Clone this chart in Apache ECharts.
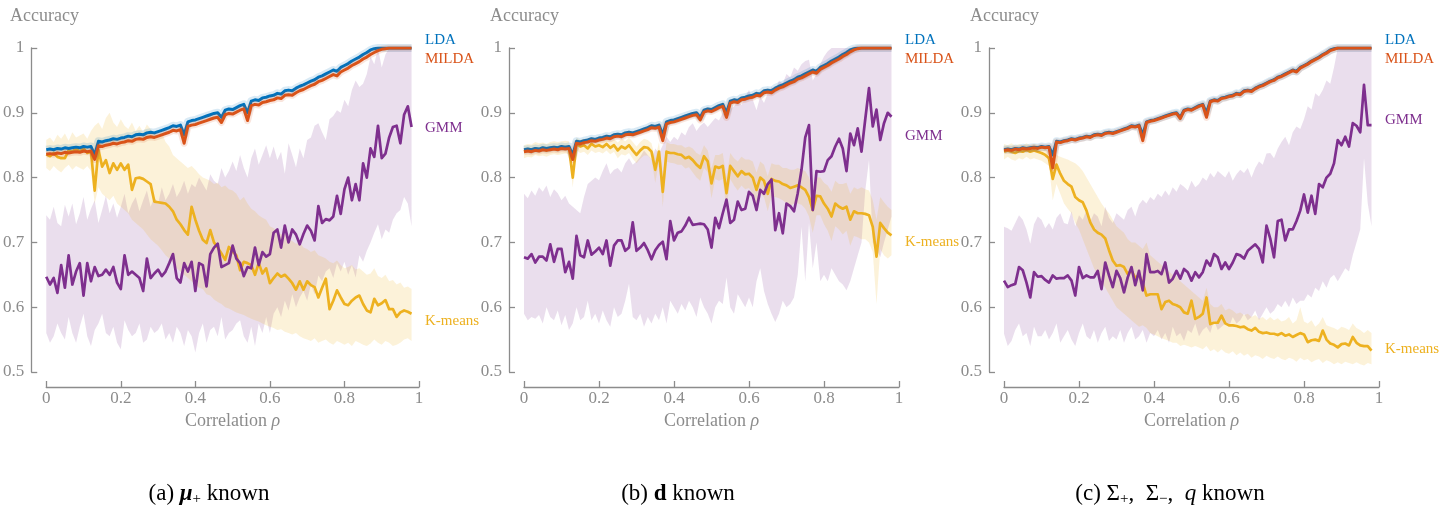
<!DOCTYPE html>
<html lang="en">
<head>
<meta charset="UTF-8">
<title>Accuracy vs correlation</title>
<script src="https://cdn.jsdelivr.net/npm/echarts@6/dist/echarts.min.js"></script>
<style>
  html, body { margin: 0; padding: 0; background: #fff; }
  #main { width: 1455px; height: 508px; }
</style>
</head>
<body>
<div id="main"></div>
<script type="text/javascript">
// correlation values on the x axis
var rho = [0,0.01,0.02,0.03,0.04,0.05,0.06,0.07,0.08,0.09,
  0.1,0.11,0.12,0.13,0.14,0.15,0.16,0.17,0.18,0.19,
  0.2,0.21,0.22,0.23,0.24,0.25,0.26,0.27,0.28,0.29,
  0.3,0.31,0.32,0.33,0.34,0.35,0.36,0.37,0.38,0.39,
  0.4,0.41,0.42,0.43,0.44,0.45,0.46,0.47,0.48,0.49,
  0.5,0.51,0.52,0.53,0.54,0.55,0.56,0.57,0.58,0.59,
  0.6,0.61,0.62,0.63,0.64,0.65,0.66,0.67,0.68,0.69,
  0.7,0.71,0.72,0.73,0.74,0.75,0.76,0.77,0.78,0.79,
  0.8,0.81,0.82,0.83,0.84,0.85,0.86,0.87,0.88,0.89,
  0.9,0.91,0.92,0.93,0.94,0.95,0.96,0.97,0.98];

// LDA looks the same in all three panels
var lda = [0.843,0.844,0.843,0.845,0.844,0.846,0.845,0.846,0.847,0.846,
  0.848,0.847,0.848,0.835,0.856,0.855,0.857,0.858,0.860,0.859,
  0.861,0.862,0.864,0.863,0.866,0.867,0.866,0.869,0.870,0.869,
  0.871,0.873,0.875,0.877,0.880,0.879,0.881,0.866,0.886,0.888,
  0.889,0.891,0.893,0.895,0.897,0.899,0.900,0.893,0.904,0.906,
  0.905,0.908,0.911,0.913,0.900,0.918,0.920,0.919,0.923,0.924,
  0.926,0.927,0.930,0.929,0.934,0.935,0.934,0.938,0.941,0.943,
  0.946,0.949,0.951,0.955,0.957,0.960,0.963,0.966,0.964,0.970,
  0.973,0.976,0.980,0.983,0.986,0.990,0.993,0.997,0.999,1.0,
  1.0,1.0,1.0,1.0,1.0,1.0,1.0,1.0,1.0];

// ---- panel (a): mu+ known
var mildaA = [0.836,0.837,0.836,0.838,0.837,0.839,0.838,0.839,0.840,0.839,
  0.841,0.840,0.841,0.828,0.849,0.848,0.850,0.851,0.853,0.852,
  0.854,0.855,0.857,0.856,0.859,0.860,0.859,0.862,0.863,0.862,
  0.864,0.866,0.868,0.870,0.873,0.872,0.874,0.853,0.879,0.881,
  0.882,0.884,0.886,0.888,0.890,0.892,0.893,0.885,0.897,0.899,
  0.898,0.901,0.904,0.906,0.888,0.911,0.913,0.912,0.916,0.917,
  0.919,0.920,0.923,0.922,0.927,0.928,0.927,0.931,0.934,0.936,
  0.939,0.942,0.944,0.948,0.950,0.953,0.956,0.959,0.957,0.963,
  0.966,0.969,0.973,0.976,0.979,0.983,0.986,0.990,0.993,0.996,
  0.998,0.999,1.0,1.0,1.0,1.0,1.0,1.0,1.0];
var gmmA = [0.647,0.635,0.645,0.622,0.665,0.630,0.680,0.635,0.655,0.668,
  0.618,0.668,0.640,0.662,0.648,0.650,0.658,0.650,0.662,0.638,
  0.628,0.680,0.650,0.655,0.650,0.645,0.625,0.675,0.645,0.652,
  0.658,0.648,0.655,0.668,0.682,0.645,0.638,0.668,0.655,0.670,
  0.625,0.668,0.665,0.632,0.682,0.692,0.698,0.662,0.665,0.668,
  0.695,0.675,0.668,0.648,0.662,0.660,0.692,0.665,0.685,0.678,
  0.682,0.715,0.720,0.692,0.726,0.700,0.720,0.712,0.697,0.713,
  0.726,0.718,0.703,0.756,0.730,0.736,0.734,0.740,0.772,0.744,
  0.782,0.800,0.765,0.790,0.765,0.822,0.800,0.845,0.832,0.880,
  0.830,0.837,0.862,0.878,0.880,0.853,0.897,0.910,0.878];
var gmmHiA = [0.742,0.735,0.755,0.730,0.725,0.758,0.740,0.760,0.728,0.745,
  0.770,0.735,0.752,0.765,0.730,0.750,0.772,0.745,0.760,0.738,
  0.755,0.775,0.745,0.760,0.770,0.748,0.765,0.780,0.755,0.770,
  0.760,0.785,0.765,0.775,0.790,0.770,0.780,0.795,0.775,0.790,
  0.785,0.800,0.790,0.780,0.805,0.795,0.790,0.815,0.800,0.810,
  0.825,0.810,0.835,0.815,0.800,0.830,0.845,0.820,0.835,0.850,
  0.830,0.848,0.827,0.840,0.806,0.853,0.835,0.816,0.845,0.830,
  0.858,0.862,0.880,0.884,0.870,0.858,0.890,0.895,0.904,0.900,
  0.920,0.910,0.935,0.950,0.940,0.945,0.960,0.987,0.975,1.0,
  0.970,0.990,1.0,1.0,1.0,1.0,1.0,1.0,1.0];
var gmmLoA = [0.560,0.545,0.555,0.575,0.560,0.550,0.585,0.560,0.545,0.570,
  0.590,0.555,0.540,0.565,0.575,0.590,0.560,0.555,0.570,0.545,
  0.535,0.580,0.565,0.555,0.560,0.575,0.545,0.550,0.570,0.560,
  0.565,0.575,0.550,0.560,0.545,0.570,0.560,0.540,0.565,0.555,
  0.530,0.560,0.575,0.545,0.565,0.570,0.555,0.585,0.550,0.560,
  0.565,0.575,0.580,0.555,0.545,0.570,0.540,0.575,0.560,0.585,
  0.560,0.590,0.600,0.585,0.610,0.595,0.620,0.600,0.615,0.625,
  0.610,0.635,0.620,0.649,0.640,0.655,0.660,0.645,0.668,0.655,
  0.670,0.650,0.665,0.646,0.680,0.670,0.687,0.700,0.715,0.728,
  0.705,0.720,0.715,0.735,0.745,0.750,0.770,0.760,0.725];
var kmA = [0.836,0.833,0.838,0.832,0.830,0.830,0.842,0.840,0.845,0.840,
  0.845,0.838,0.840,0.780,0.843,0.817,0.827,0.807,0.822,0.812,
  0.822,0.812,0.820,0.781,0.799,0.800,0.798,0.794,0.790,0.763,
  0.762,0.761,0.760,0.755,0.748,0.735,0.728,0.719,0.712,0.755,
  0.735,0.718,0.704,0.699,0.719,0.700,0.692,0.683,0.673,0.693,
  0.686,0.680,0.657,0.670,0.668,0.665,0.650,0.668,0.652,0.660,
  0.637,0.645,0.652,0.647,0.650,0.644,0.637,0.627,0.640,0.627,
  0.640,0.634,0.631,0.615,0.630,0.644,0.597,0.610,0.626,0.615,
  0.605,0.603,0.610,0.615,0.618,0.605,0.595,0.592,0.613,0.603,
  0.606,0.611,0.597,0.597,0.585,0.592,0.595,0.593,0.590];
var kmHiA = [0.858,0.862,0.855,0.866,0.860,0.868,0.857,0.870,0.862,0.865,
  0.868,0.860,0.872,0.880,0.885,0.875,0.892,0.900,0.885,0.878,
  0.890,0.880,0.875,0.885,0.872,0.880,0.870,0.882,0.875,0.868,
  0.865,0.870,0.855,0.848,0.835,0.830,0.825,0.820,0.815,0.818,
  0.812,0.805,0.800,0.798,0.795,0.790,0.792,0.785,0.788,0.782,
  0.780,0.775,0.765,0.770,0.760,0.752,0.748,0.742,0.738,0.735,
  0.725,0.722,0.718,0.712,0.715,0.705,0.702,0.698,0.700,0.692,
  0.690,0.685,0.688,0.680,0.678,0.675,0.670,0.668,0.672,0.665,
  0.660,0.662,0.665,0.658,0.660,0.655,0.650,0.652,0.660,0.648,
  0.645,0.650,0.640,0.642,0.635,0.638,0.630,0.632,0.628];
var kmLoA = [0.815,0.810,0.818,0.812,0.808,0.815,0.820,0.812,0.818,0.815,
  0.812,0.818,0.810,0.760,0.785,0.775,0.770,0.765,0.772,0.760,
  0.755,0.750,0.745,0.735,0.730,0.725,0.720,0.712,0.705,0.700,
  0.695,0.688,0.680,0.675,0.668,0.660,0.655,0.650,0.645,0.640,
  0.635,0.630,0.628,0.620,0.618,0.612,0.608,0.605,0.600,0.598,
  0.595,0.592,0.590,0.588,0.585,0.582,0.580,0.578,0.575,0.572,
  0.570,0.568,0.565,0.566,0.562,0.560,0.558,0.560,0.555,0.552,
  0.550,0.548,0.552,0.545,0.548,0.550,0.545,0.542,0.548,0.545,
  0.542,0.545,0.540,0.548,0.545,0.542,0.540,0.544,0.550,0.545,
  0.542,0.548,0.545,0.540,0.542,0.545,0.550,0.552,0.548];

// ---- panel (b): d known
var mildaB = [0.840,0.841,0.840,0.842,0.841,0.843,0.842,0.843,0.844,0.843,
  0.845,0.844,0.845,0.828,0.853,0.852,0.854,0.855,0.857,0.856,
  0.858,0.859,0.861,0.860,0.863,0.864,0.863,0.866,0.867,0.866,
  0.868,0.870,0.872,0.874,0.877,0.876,0.878,0.857,0.883,0.885,
  0.886,0.888,0.890,0.892,0.894,0.896,0.897,0.889,0.901,0.903,
  0.902,0.905,0.908,0.910,0.893,0.915,0.917,0.916,0.920,0.921,
  0.923,0.924,0.927,0.926,0.931,0.932,0.931,0.935,0.938,0.940,
  0.943,0.946,0.948,0.952,0.954,0.957,0.960,0.963,0.961,0.967,
  0.970,0.973,0.977,0.980,0.983,0.987,0.990,0.994,0.997,0.999,
  1.0,1.0,1.0,1.0,1.0,1.0,1.0,1.0,1.0];
var gmmB = [0.677,0.675,0.682,0.669,0.678,0.678,0.672,0.697,0.670,0.690,
  0.690,0.654,0.670,0.644,0.710,0.680,0.677,0.703,0.681,0.686,
  0.692,0.682,0.703,0.664,0.695,0.703,0.703,0.687,0.692,0.731,
  0.687,0.692,0.699,0.688,0.674,0.688,0.696,0.701,0.674,0.733,
  0.703,0.715,0.717,0.726,0.738,0.727,0.728,0.729,0.728,0.720,
  0.692,0.738,0.722,0.745,0.766,0.730,0.735,0.763,0.750,0.752,
  0.778,0.772,0.750,0.781,0.775,0.790,0.797,0.719,0.745,0.714,
  0.760,0.756,0.748,0.776,0.812,0.862,0.881,0.750,0.810,0.809,
  0.810,0.827,0.833,0.848,0.860,0.845,0.810,0.868,0.850,0.876,
  0.840,0.890,0.938,0.879,0.905,0.858,0.884,0.900,0.894];
var gmmHiB = [0.775,0.768,0.780,0.772,0.785,0.778,0.788,0.770,0.782,0.776,
  0.765,0.772,0.760,0.755,0.750,0.745,0.770,0.790,0.795,0.800,
  0.796,0.810,0.822,0.805,0.812,0.815,0.808,0.822,0.830,0.820,
  0.825,0.832,0.842,0.835,0.828,0.845,0.838,0.850,0.863,0.855,
  0.863,0.858,0.870,0.865,0.878,0.884,0.872,0.880,0.885,0.878,
  0.885,0.892,0.888,0.900,0.895,0.905,0.910,0.917,0.912,0.925,
  0.935,0.920,0.904,0.925,0.915,0.930,0.940,0.935,0.950,0.945,
  0.960,0.955,0.970,0.965,0.975,0.980,0.982,0.950,0.960,0.975,
  0.987,0.995,1.0,1.0,1.0,1.0,1.0,1.0,1.0,1.0,
  1.0,1.0,1.0,1.0,1.0,1.0,1.0,1.0,1.0];
var gmmLoB = [0.590,0.580,0.585,0.582,0.588,0.575,0.600,0.585,0.580,0.595,
  0.572,0.588,0.565,0.575,0.600,0.580,0.585,0.610,0.580,0.590,
  0.575,0.595,0.580,0.570,0.600,0.585,0.590,0.610,0.636,0.585,
  0.580,0.590,0.570,0.585,0.575,0.590,0.580,0.600,0.575,0.610,
  0.600,0.590,0.605,0.595,0.610,0.600,0.585,0.615,0.600,0.590,
  0.575,0.600,0.610,0.605,0.646,0.600,0.590,0.620,0.610,0.600,
  0.615,0.600,0.640,0.660,0.625,0.605,0.590,0.577,0.590,0.610,
  0.600,0.605,0.615,0.650,0.724,0.640,0.730,0.660,0.700,0.640,
  0.650,0.640,0.660,0.650,0.640,0.635,0.626,0.640,0.660,0.680,
  0.700,0.780,0.827,0.700,0.690,0.677,0.700,0.720,0.740];
var kmB = [0.840,0.842,0.841,0.845,0.843,0.844,0.842,0.845,0.846,0.845,
  0.846,0.847,0.846,0.800,0.852,0.848,0.850,0.845,0.852,0.848,
  0.850,0.847,0.852,0.846,0.850,0.842,0.848,0.845,0.850,0.842,
  0.835,0.842,0.847,0.846,0.840,0.812,0.840,0.778,0.840,0.838,
  0.838,0.836,0.835,0.830,0.832,0.827,0.820,0.815,0.833,0.825,
  0.791,0.817,0.815,0.818,0.776,0.818,0.810,0.802,0.810,0.805,
  0.806,0.800,0.781,0.800,0.795,0.775,0.798,0.795,0.794,0.790,
  0.788,0.784,0.786,0.788,0.785,0.781,0.770,0.750,0.772,0.771,
  0.760,0.752,0.740,0.760,0.755,0.752,0.755,0.735,0.748,0.745,
  0.745,0.744,0.742,0.724,0.678,0.730,0.722,0.715,0.711];
var kmHiB = [0.850,0.852,0.851,0.855,0.853,0.854,0.852,0.855,0.856,0.855,
  0.856,0.857,0.856,0.815,0.862,0.858,0.860,0.855,0.862,0.858,
  0.860,0.857,0.862,0.856,0.860,0.854,0.860,0.856,0.862,0.855,
  0.848,0.855,0.860,0.858,0.853,0.830,0.855,0.800,0.855,0.852,
  0.852,0.850,0.850,0.846,0.848,0.845,0.838,0.835,0.850,0.842,
  0.815,0.835,0.835,0.838,0.800,0.838,0.830,0.825,0.832,0.828,
  0.828,0.825,0.808,0.825,0.820,0.802,0.822,0.820,0.820,0.815,
  0.815,0.812,0.812,0.815,0.812,0.810,0.800,0.785,0.800,0.800,
  0.792,0.788,0.778,0.795,0.790,0.790,0.792,0.775,0.785,0.782,
  0.785,0.782,0.780,0.765,0.735,0.770,0.762,0.755,0.750];
var kmLoB = [0.830,0.832,0.831,0.835,0.833,0.834,0.832,0.835,0.836,0.835,
  0.836,0.837,0.836,0.785,0.842,0.838,0.840,0.835,0.842,0.838,
  0.840,0.837,0.842,0.836,0.840,0.830,0.836,0.834,0.838,0.829,
  0.822,0.829,0.834,0.834,0.827,0.792,0.825,0.755,0.825,0.823,
  0.822,0.820,0.820,0.814,0.816,0.808,0.800,0.795,0.815,0.808,
  0.768,0.798,0.795,0.798,0.750,0.798,0.788,0.780,0.788,0.782,
  0.784,0.775,0.755,0.775,0.770,0.748,0.772,0.770,0.768,0.765,
  0.760,0.756,0.760,0.760,0.758,0.752,0.740,0.715,0.742,0.742,
  0.728,0.718,0.702,0.725,0.720,0.712,0.718,0.695,0.710,0.708,
  0.705,0.705,0.700,0.685,0.605,0.690,0.680,0.675,0.680];

// ---- panel (c): Sigma+, Sigma-, q known
var mildaC = [0.842,0.843,0.842,0.844,0.843,0.845,0.844,0.845,0.846,0.845,
  0.847,0.846,0.847,0.815,0.855,0.854,0.856,0.857,0.859,0.858,
  0.860,0.861,0.863,0.862,0.865,0.866,0.865,0.868,0.869,0.868,
  0.870,0.872,0.874,0.876,0.879,0.878,0.880,0.857,0.885,0.887,
  0.888,0.890,0.892,0.894,0.896,0.898,0.899,0.891,0.903,0.905,
  0.904,0.907,0.910,0.912,0.893,0.917,0.919,0.918,0.922,0.923,
  0.925,0.926,0.929,0.928,0.933,0.934,0.933,0.937,0.940,0.942,
  0.945,0.948,0.950,0.954,0.956,0.959,0.962,0.965,0.963,0.969,
  0.972,0.975,0.979,0.982,0.985,0.989,0.992,0.996,0.998,1.0,
  1.0,1.0,1.0,1.0,1.0,1.0,1.0,1.0,1.0];
var gmmC = [0.641,0.631,0.634,0.636,0.662,0.657,0.638,0.615,0.654,0.647,
  0.648,0.642,0.638,0.649,0.644,0.645,0.645,0.649,0.641,0.618,
  0.662,0.645,0.649,0.646,0.646,0.656,0.628,0.669,0.649,0.631,
  0.656,0.645,0.623,0.646,0.662,0.634,0.656,0.626,0.682,0.654,
  0.654,0.656,0.651,0.669,0.638,0.644,0.656,0.644,0.659,0.654,
  0.641,0.654,0.646,0.654,0.672,0.664,0.682,0.677,0.659,0.669,
  0.659,0.669,0.682,0.680,0.675,0.687,0.692,0.697,0.690,0.669,
  0.726,0.706,0.677,0.733,0.735,0.703,0.720,0.720,0.733,0.749,
  0.774,0.746,0.772,0.744,0.790,0.785,0.800,0.806,0.822,0.858,
  0.850,0.863,0.848,0.884,0.880,0.870,0.943,0.881,0.881];
var gmmHiC = [0.724,0.722,0.718,0.730,0.742,0.735,0.720,0.698,0.728,0.740,
  0.735,0.722,0.730,0.720,0.738,0.745,0.730,0.728,0.748,0.725,
  0.742,0.735,0.750,0.732,0.745,0.740,0.725,0.755,0.738,0.730,
  0.745,0.740,0.735,0.750,0.755,0.740,0.758,0.766,0.760,0.770,
  0.765,0.775,0.770,0.780,0.772,0.785,0.778,0.790,0.786,0.780,
  0.795,0.785,0.790,0.800,0.795,0.807,0.800,0.810,0.805,0.800,
  0.810,0.795,0.805,0.812,0.807,0.815,0.800,0.815,0.825,0.820,
  0.837,0.838,0.830,0.845,0.855,0.863,0.850,0.870,0.879,0.875,
  0.890,0.910,0.905,0.930,0.925,0.935,0.950,0.945,0.970,1.0,
  1.0,1.0,1.0,1.0,1.0,1.0,1.0,1.0,1.0];
var gmmLoC = [0.559,0.540,0.548,0.565,0.575,0.555,0.560,0.540,0.570,0.555,
  0.555,0.565,0.550,0.560,0.575,0.545,0.555,0.565,0.550,0.540,
  0.560,0.575,0.555,0.550,0.565,0.545,0.560,0.570,0.548,0.555,
  0.550,0.565,0.545,0.560,0.570,0.550,0.555,0.565,0.545,0.560,
  0.555,0.565,0.550,0.560,0.545,0.570,0.555,0.560,0.548,0.565,
  0.560,0.575,0.555,0.565,0.570,0.560,0.580,0.565,0.570,0.575,
  0.570,0.585,0.575,0.580,0.590,0.580,0.585,0.595,0.580,0.590,
  0.600,0.590,0.595,0.605,0.600,0.610,0.600,0.615,0.605,0.610,
  0.610,0.620,0.615,0.630,0.625,0.640,0.630,0.645,0.650,0.640,
  0.650,0.660,0.655,0.680,0.700,0.720,0.830,0.760,0.725];
var kmC = [0.840,0.842,0.840,0.838,0.841,0.840,0.843,0.840,0.842,0.840,
  0.838,0.835,0.830,0.798,0.820,0.806,0.795,0.790,0.786,0.770,
  0.765,0.762,0.749,0.731,0.720,0.715,0.712,0.706,0.688,0.672,
  0.664,0.665,0.662,0.651,0.657,0.645,0.650,0.637,0.618,0.620,
  0.620,0.620,0.597,0.608,0.610,0.605,0.603,0.600,0.592,0.590,
  0.610,0.582,0.585,0.590,0.615,0.574,0.576,0.576,0.587,0.575,
  0.572,0.572,0.571,0.569,0.570,0.566,0.564,0.568,0.562,0.560,
  0.561,0.559,0.559,0.557,0.560,0.556,0.558,0.554,0.557,0.560,
  0.558,0.546,0.549,0.550,0.548,0.564,0.550,0.544,0.542,0.538,
  0.543,0.544,0.541,0.554,0.545,0.541,0.540,0.540,0.533];
var kmHiC = [0.852,0.850,0.853,0.849,0.852,0.850,0.853,0.850,0.852,0.850,
  0.848,0.846,0.842,0.830,0.835,0.832,0.830,0.828,0.825,0.822,
  0.817,0.810,0.800,0.790,0.780,0.770,0.760,0.752,0.745,0.735,
  0.725,0.720,0.715,0.705,0.700,0.700,0.695,0.690,0.700,0.680,
  0.675,0.670,0.665,0.660,0.655,0.650,0.648,0.640,0.635,0.630,
  0.625,0.620,0.615,0.610,0.630,0.605,0.600,0.600,0.605,0.595,
  0.598,0.595,0.590,0.592,0.588,0.590,0.585,0.588,0.582,0.585,
  0.580,0.585,0.580,0.583,0.578,0.580,0.585,0.575,0.580,0.600,
  0.578,0.575,0.580,0.570,0.575,0.585,0.572,0.570,0.568,0.565,
  0.570,0.568,0.565,0.575,0.568,0.565,0.560,0.565,0.560];
var kmLoC = [0.828,0.832,0.828,0.826,0.830,0.828,0.832,0.828,0.830,0.828,
  0.826,0.822,0.818,0.765,0.790,0.775,0.760,0.752,0.745,0.730,
  0.720,0.705,0.690,0.675,0.660,0.650,0.640,0.630,0.620,0.610,
  0.600,0.595,0.590,0.585,0.580,0.575,0.570,0.572,0.568,0.560,
  0.558,0.555,0.552,0.550,0.548,0.545,0.545,0.540,0.542,0.540,
  0.538,0.540,0.538,0.535,0.540,0.532,0.535,0.530,0.535,0.530,
  0.528,0.532,0.526,0.530,0.525,0.528,0.522,0.526,0.524,0.520,
  0.525,0.522,0.520,0.524,0.520,0.518,0.522,0.520,0.516,0.522,
  0.518,0.520,0.515,0.518,0.520,0.514,0.518,0.516,0.512,0.515,
  0.512,0.516,0.514,0.512,0.515,0.512,0.510,0.514,0.512];

var xTicks = [0, 0.2, 0.4, 0.6, 0.8, 1];

var panels = [
  {milda: mildaA, gmm: gmmA, gmmHi: gmmHiA, gmmLo: gmmLoA, km: kmA, kmHi: kmHiA, kmLo: kmLoA},
  {milda: mildaB, gmm: gmmB, gmmHi: gmmHiB, gmmLo: gmmLoB, km: kmB, kmHi: kmHiB, kmLo: kmLoB},
  {milda: mildaC, gmm: gmmC, gmmHi: gmmHiC, gmmLo: gmmLoC, km: kmC, kmHi: kmHiC, kmLo: kmLoC}
];

var C_LDA = '#0072BD', C_MILDA = '#D95319', C_GMM = '#7E2F8E', C_KM = '#EDB120';
var AX = '#8c8c8c';
var SERIF = '"Liberation Serif", "DejaVu Serif", serif';

function pairs(arr) {
  return arr.map(function (v, i) { return [rho[i], v]; });
}

// shaded band between lo and hi, drawn as one polygon through the axes
function band(k, lo, hi, fill) {
  return {
    type: 'custom', xAxisIndex: k, yAxisIndex: k, silent: true, z: 1,
    data: [[0, 0.75]],
    renderItem: function (params, api) {
      var pts = [];
      for (var i = 0; i < hi.length; i++) pts.push(api.coord([rho[i], hi[i]]));
      for (var j = lo.length - 1; j >= 0; j--) pts.push(api.coord([rho[j], lo[j]]));
      return {type: 'polygon', shape: {points: pts}, style: {fill: fill}};
    }
  };
}

function line(k, arr, color, width, z, opacity) {
  return {
    type: 'line', xAxisIndex: k, yAxisIndex: k, data: pairs(arr), z: z,
    showSymbol: false, silent: true,
    lineStyle: {color: color, width: width, opacity: opacity === undefined ? 1 : opacity, join: 'round'}
  };
}

var grids = [], xAxes = [], yAxes = [], series = [], graphics = [];
var labelY = [
  {gmm: 128, km: 321},
  {gmm: 136, km: 242},
  {gmm: 120, km: 349}
];

panels.forEach(function (p, k) {
  var left = 44 + 480 * k;
  grids.push({left: left, top: 48, width: 375, height: 324});
  xAxes.push({
    type: 'value', gridIndex: k, min: 0, max: 1, interval: 0.2, offset: 15,
    axisLine: {onZero: false, lineStyle: {color: AX, width: 1.3}},
    axisTick: {inside: true, length: 6, lineStyle: {color: AX, width: 1.3}},
    axisLabel: {color: AX, fontFamily: SERIF, fontSize: 17, margin: 3,
      formatter: function (v) { return xTicks.indexOf(+v.toFixed(2)) >= 0 ? String(+v.toFixed(2)) : ''; }},
    splitLine: {show: false},
    name: 'Correlation {i|ρ}', nameLocation: 'middle', nameGap: 24,
    nameTextStyle: {color: AX, fontFamily: SERIF, fontSize: 18,
      rich: {i: {fontStyle: 'italic', fontFamily: SERIF, fontSize: 18, color: AX}}}
  });
  yAxes.push({
    type: 'value', gridIndex: k, min: 0.5, max: 1, interval: 0.1, offset: 15,
    axisLine: {show: true, onZero: false, lineStyle: {color: AX, width: 1.3}},
    axisTick: {show: true, inside: true, length: 6, lineStyle: {color: AX, width: 1.3}},
    axisLabel: {color: AX, fontFamily: SERIF, fontSize: 17, margin: 7,
      formatter: function (v) { return String(+v.toFixed(2)); }},
    splitLine: {show: false}
  });

  series.push(band(k, p.gmmLo, p.gmmHi, 'rgba(126,47,142,0.16)'));
  series.push(band(k, p.kmLo, p.kmHi, 'rgba(237,177,32,0.17)'));
  series.push(line(k, p.km, C_KM, 2.7, 3));
  series.push(line(k, p.gmm, C_GMM, 2.7, 4));
  series.push(line(k, lda, C_LDA, 8, 5, 0.15));
  series.push(line(k, lda, C_LDA, 3, 6));
  series.push(line(k, p.milda, C_MILDA, 7, 7, 0.15));
  series.push(line(k, p.milda, C_MILDA, 3, 8));

  var lx = 425 + 480 * k;
  var font = '15px ' + SERIF;
  graphics.push({type: 'text', x: 10 + 480 * k, y: 16,
    style: {text: 'Accuracy', fill: AX, font: '18px ' + SERIF, align: 'left', verticalAlign: 'middle'}});
  graphics.push({type: 'text', x: lx, y: 40,
    style: {text: 'LDA', fill: C_LDA, font: font, align: 'left', verticalAlign: 'middle'}});
  graphics.push({type: 'text', x: lx, y: 59,
    style: {text: 'MILDA', fill: C_MILDA, font: font, align: 'left', verticalAlign: 'middle'}});
  graphics.push({type: 'text', x: lx, y: labelY[k].gmm,
    style: {text: 'GMM', fill: C_GMM, font: font, align: 'left', verticalAlign: 'middle'}});
  graphics.push({type: 'text', x: lx, y: labelY[k].km,
    style: {text: 'K-means', fill: C_KM, font: font, align: 'left', verticalAlign: 'middle'}});
});

var capRich = {
  b: {fontFamily: SERIF, fontSize: 23, fontWeight: 'bold', color: '#000'},
  bi: {fontFamily: SERIF, fontSize: 23, fontWeight: 'bold', fontStyle: 'italic', color: '#000'},
  it: {fontFamily: SERIF, fontSize: 23, fontStyle: 'italic', color: '#000'},
  sub: {fontFamily: SERIF, fontSize: 15, color: '#000', padding: [10, 0, 0, 0]}
};
var captions = [
  {x: 209, text: '(a) {bi|μ}{sub|+} known'},
  {x: 678, text: '(b) {b|d} known'},
  {x: 1170, text: '(c) Σ{sub|+},  Σ{sub|−},  {it|q} known'}
];
captions.forEach(function (c) {
  graphics.push({type: 'text', x: c.x, y: 494,
    style: {text: c.text, fill: '#000', font: '23px ' + SERIF, align: 'center', verticalAlign: 'middle', rich: capRich}});
});

var chart = echarts.init(document.getElementById('main'), null, {renderer: 'canvas'});
chart.setOption({
  animation: false,
  backgroundColor: '#fff',
  grid: grids,
  xAxis: xAxes,
  yAxis: yAxes,
  series: series,
  graphic: graphics
});
</script>
</body>
</html>
